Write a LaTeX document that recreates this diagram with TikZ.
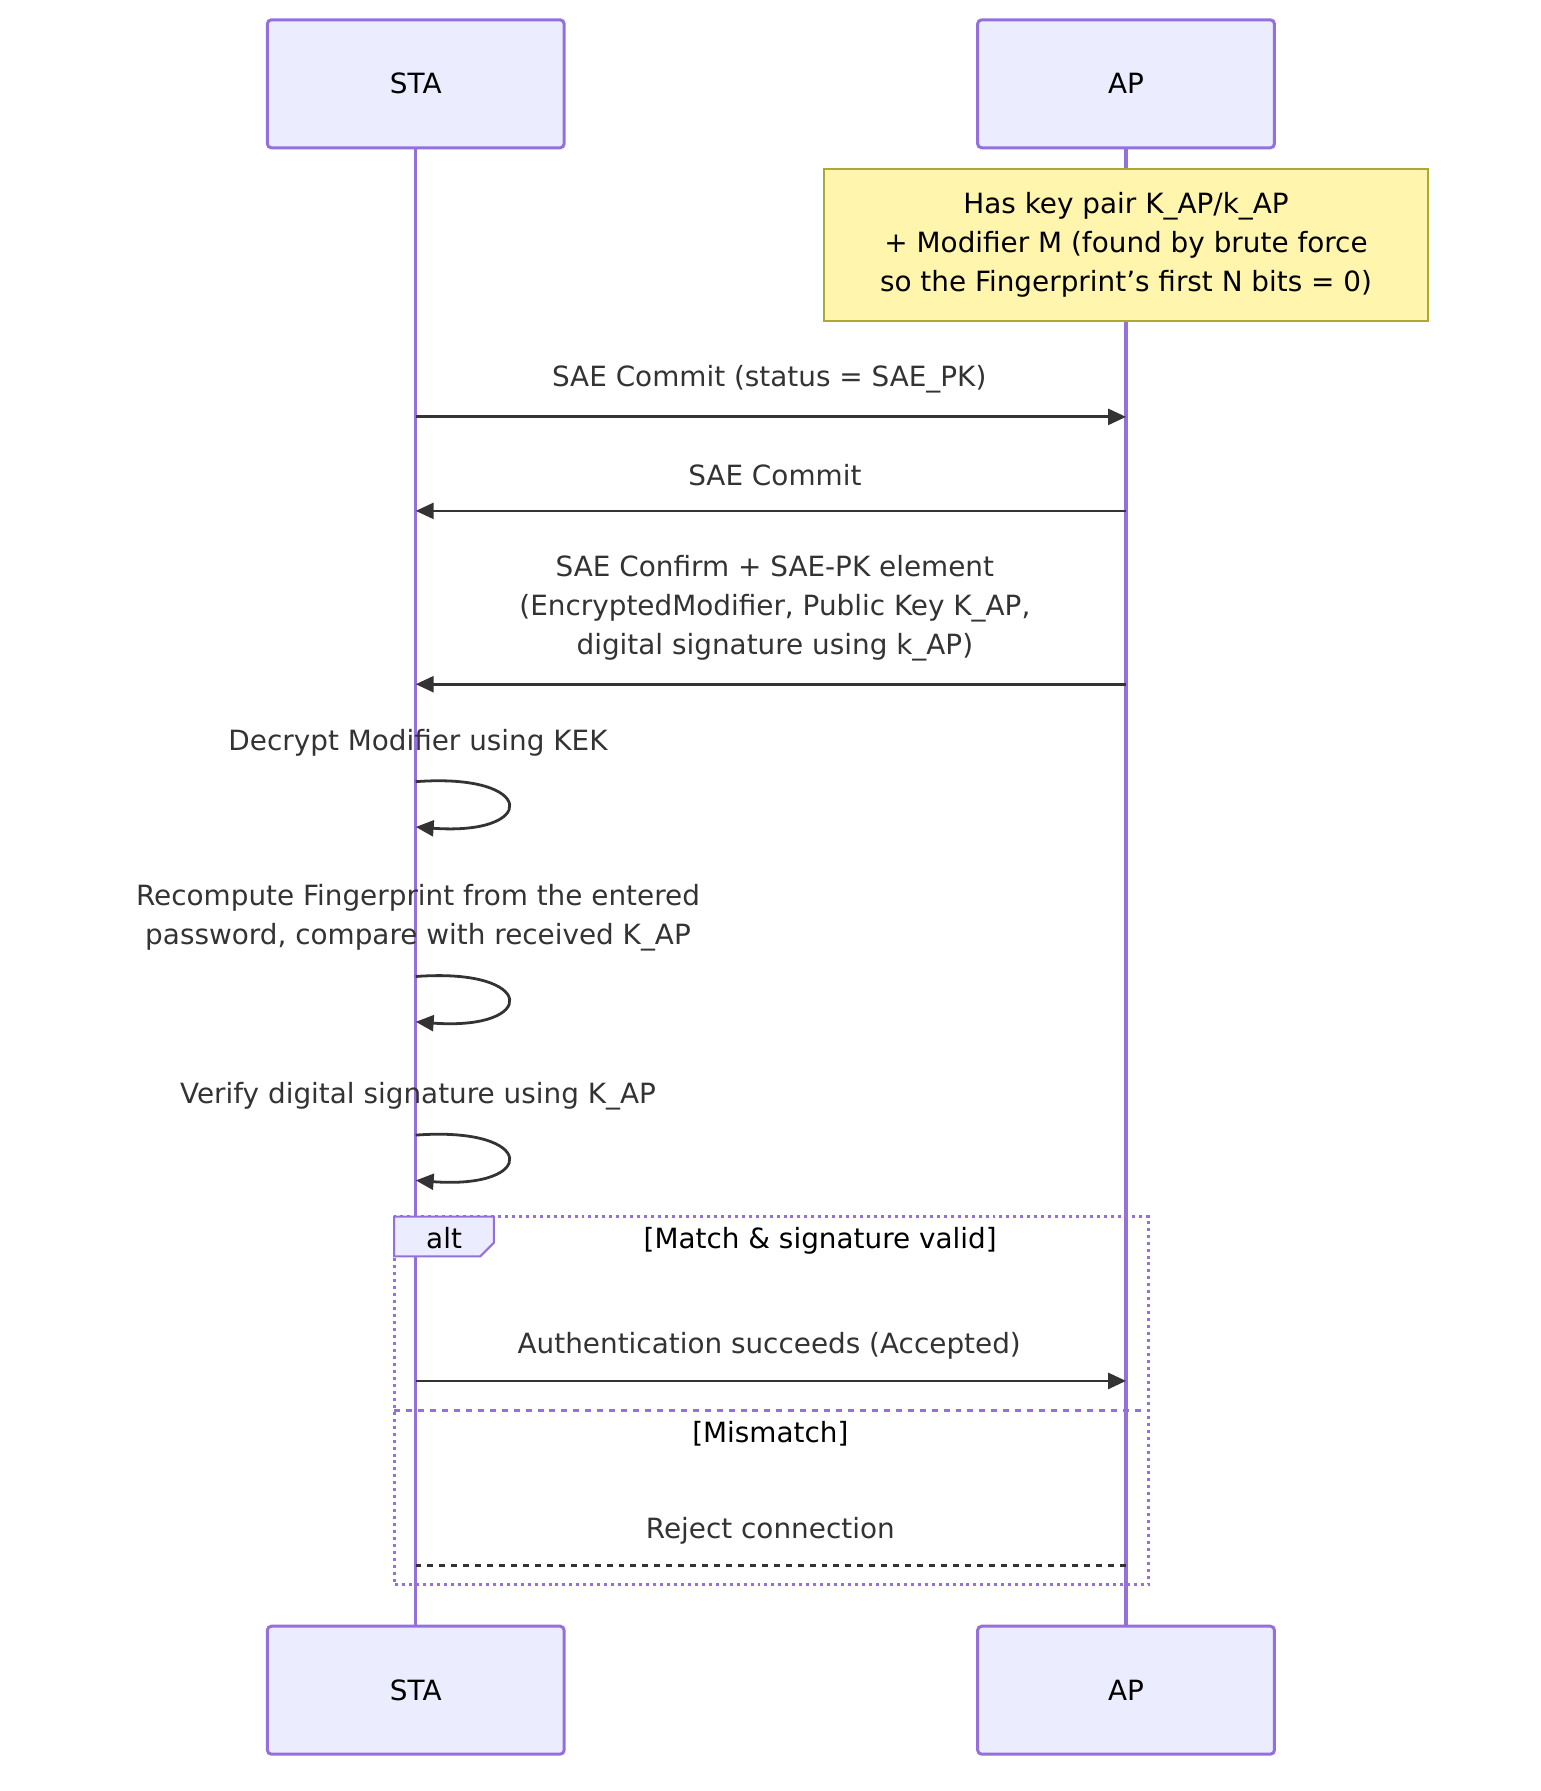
\documentclass[tikz,border=0pt]{standalone}
\usepackage{fontspec}
\setmainfont{DejaVu Sans}
\usetikzlibrary{arrows.meta}
\definecolor{actfill}{HTML}{ECECFF}
\definecolor{actline}{HTML}{9370DB}
\definecolor{notefill}{HTML}{FFF5AD}
\definecolor{noteline}{HTML}{AAAA33}
\definecolor{ink}{HTML}{333333}
\tikzset{
  actor/.style={draw=actline, fill=actfill, line width=1.5pt, rounded corners=2pt,
    minimum width=5.24cm, minimum height=2.26cm, font=\fontsize{14}{17}\selectfont},
  msg/.style={ink, line width=1.4pt, -{Triangle[length=9pt,width=8pt]}},
  lbl/.style={text=ink, align=center, font=\fontsize{14}{19.5}\selectfont},
  life/.style={actline, line width=1.6pt}
}
\begin{document}
\begin{tikzpicture}[x=0.02cm, y=-0.02cm]
  \useasboundingbox (0,0) rectangle (1360,1581);
  % actors
  \node[actor] (staT) at (367,74) {STA};
  \node[actor] (apT) at (994,74) {AP};
  \node[actor] (staB) at (367,1492) {STA};
  \node[actor] (apB) at (994,1492) {AP};
  \draw[life] (staT.south) -- (staB.north);
  \draw[life] (apT.south) -- (apB.north);
  % note
  \node[draw=noteline, fill=notefill, line width=1pt, minimum width=10.68cm, minimum height=2.68cm,
    lbl, text=black] (key) at (994,216)
    {Has key pair K\_AP/k\_AP\\+ Modifier M (found by brute force\\so the Fingerprint\symbol{39}s first N bits = 0)};
  % messages
  \foreach \n/\y in {m1/368, m2/451, m3/604, m4/1219, m5/1382}{
    \coordinate (s\n) at (367,\y);
    \coordinate (a\n) at (994,\y);
  }
  \draw[msg] (sm1) -- (am1);
  \node[lbl] at (679,335) {SAE Commit (status = SAE\_PK)};
  \draw[msg] (am2) -- (sm2);
  \node[lbl] at (684,419) {SAE Commit};
  \draw[msg] (am3) -- (sm3);
  \node[lbl] at (684,537) {SAE Confirm + SAE-PK element\\(EncryptedModifier, Public Key K\_AP,\\digital signature using k\_AP)};
  % self loops
  \foreach \t/\y in {690/Decrypt Modifier using KEK, 862/{Recompute Fingerprint from the entered\\password, compare with received K\_AP}, 1002/Verify digital signature using K\_AP}{
    \coordinate (lo) at (367,\t);
    \coordinate (li) at (367,\t+40);
    \draw[msg] (lo) .. controls (475,\t-8) and (475,\t+48) .. (li);
    \node[lbl, anchor=south] at (369,\t-16) {\y};
  }
  % alt frame
  \draw[actline, line width=1.5pt, dotted] (348,1074) rectangle (1014,1399);
  \draw[actline, line width=1.5pt, dashed] (348,1245) -- (1014,1245);
  \draw[actline, fill=actfill, line width=1pt] (348,1074) -- (436,1074) -- (436,1097) -- (424,1109) -- (348,1109) -- cycle;
  \node[lbl, text=black] (alt) at (392,1093) {alt};
  \node[lbl, text=black] at (724,1095) {[Match \& signature valid]};
  \node[lbl, text=black] at (680,1266) {[Mismatch]};
  \draw[msg] (sm4) -- (am4);
  \node[lbl] at (679,1188) {Authentication succeeds (Accepted)};
  \draw[ink, line width=1.4pt, dash pattern=on 3pt off 3pt] (am5) -- (sm5);
  \node[lbl] at (680,1351) {Reject connection};
\end{tikzpicture}
\end{document}
